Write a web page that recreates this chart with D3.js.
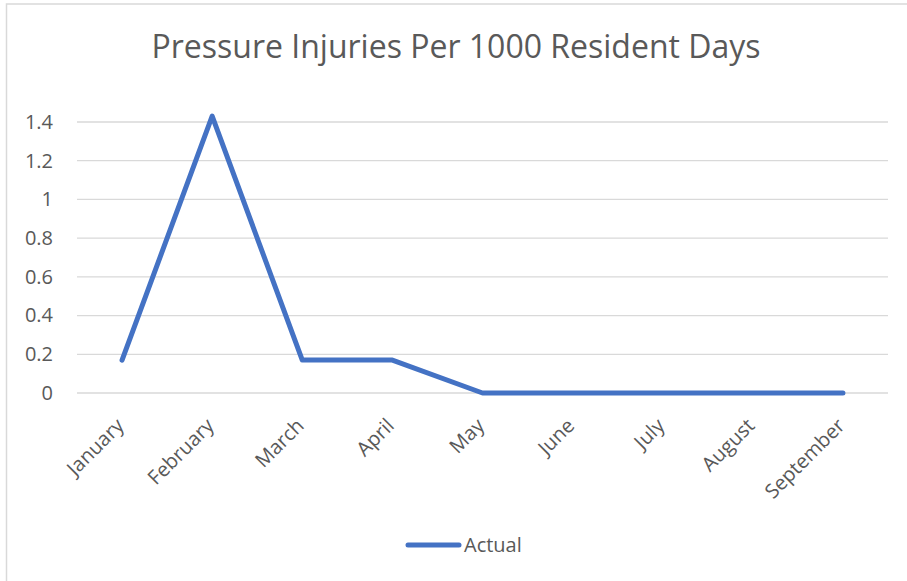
<!DOCTYPE html>
<html>
<head>
<meta charset="utf-8">
<script src="https://cdn.jsdelivr.net/npm/d3@7"></script>
<style>
  body { margin: 0; background: #fff; }
  svg text { font-family: "Open Sans", "Noto Sans", sans-serif; fill: #595959; }
</style>
</head>
<body>
<div class="chart"></div>
<script>
const title = 'Pressure Injuries Per 1000 Resident Days'
const months = ['January', 'February', 'March', 'April', 'May', 'June', 'July', 'August', 'September']
const actual = [0.17, 1.43, 0.17, 0.17, 0, 0, 0, 0, 0]
const yTicks = [0, 0.2, 0.4, 0.6, 0.8, 1, 1.2, 1.4]
const seriesName = 'Actual'

const width = 907
const height = 581
const margin = { left: 77, right: 19, top: 122, bottom: 188 }
const blue = '#4472C4'

const svg = d3
  .select('.chart')
  .append('svg')
  .attr('width', width)
  .attr('height', height)

// chart frame (clipped at right / bottom like the screenshot)
svg
  .append('rect')
  .attr('x', 6.5)
  .attr('y', 4)
  .attr('width', width + 10)
  .attr('height', height + 10)
  .attr('fill', 'none')
  .attr('stroke', '#d9d9d9')
  .attr('stroke-width', 1.5)

svg
  .append('text')
  .attr('x', 456)
  .attr('y', 58)
  .attr('text-anchor', 'middle')
  .style('font-size', '32px')
  .text(title)

const xScale = d3
  .scaleBand()
  .domain(months)
  .range([margin.left, width - margin.right])

const yScale = d3
  .scaleLinear()
  .domain([0, 1.4])
  .range([height - margin.bottom, margin.top])

// gridlines
svg
  .append('g')
  .selectAll('line')
  .data(yTicks)
  .enter()
  .append('line')
  .attr('x1', margin.left)
  .attr('x2', width - margin.right)
  .attr('y1', d => yScale(d))
  .attr('y2', d => yScale(d))
  .attr('stroke', '#d9d9d9')
  .attr('stroke-width', 1.3)

const yAxis = d3.axisLeft(yScale).tickValues(yTicks).tickSize(0).tickPadding(0).tickFormat(d3.format('~g'))
svg
  .append('g')
  .attr('transform', `translate(${margin.left - 24}, 0)`)
  .call(yAxis)
  .call(g => g.select('.domain').remove())
  .selectAll('text')
  .style('font-size', '20px')
  .style('fill', '#595959')

const xAxis = d3.axisBottom(xScale).tickSize(0)
svg
  .append('g')
  .attr('transform', `translate(0, ${yScale(0)})`)
  .call(xAxis)
  .call(g => g.select('.domain').remove())
  .selectAll('text')
  .style('font-size', '20px')
  .style('fill', '#595959')
  .attr('text-anchor', 'end')
  .attr('dy', null)
  .attr('y', 0)
  .attr('transform', 'translate(3, 34) rotate(-45)')

const line = d3
  .line()
  .x((_, i) => xScale(months[i]) + xScale.bandwidth() / 2)
  .y(d => yScale(d))

svg
  .append('path')
  .datum(actual)
  .attr('d', line)
  .attr('fill', 'none')
  .attr('stroke', blue)
  .attr('stroke-width', 5)
  .attr('stroke-linejoin', 'round')
  .attr('stroke-linecap', 'round')

// legend
svg
  .append('line')
  .attr('x1', 408)
  .attr('x2', 459)
  .attr('y1', 545)
  .attr('y2', 545)
  .attr('stroke', blue)
  .attr('stroke-width', 5)
  .attr('stroke-linecap', 'round')

svg
  .append('text')
  .attr('x', 464)
  .attr('y', 552)
  .style('font-size', '20px')
  .text(seriesName)
</script>
</body>
</html>
